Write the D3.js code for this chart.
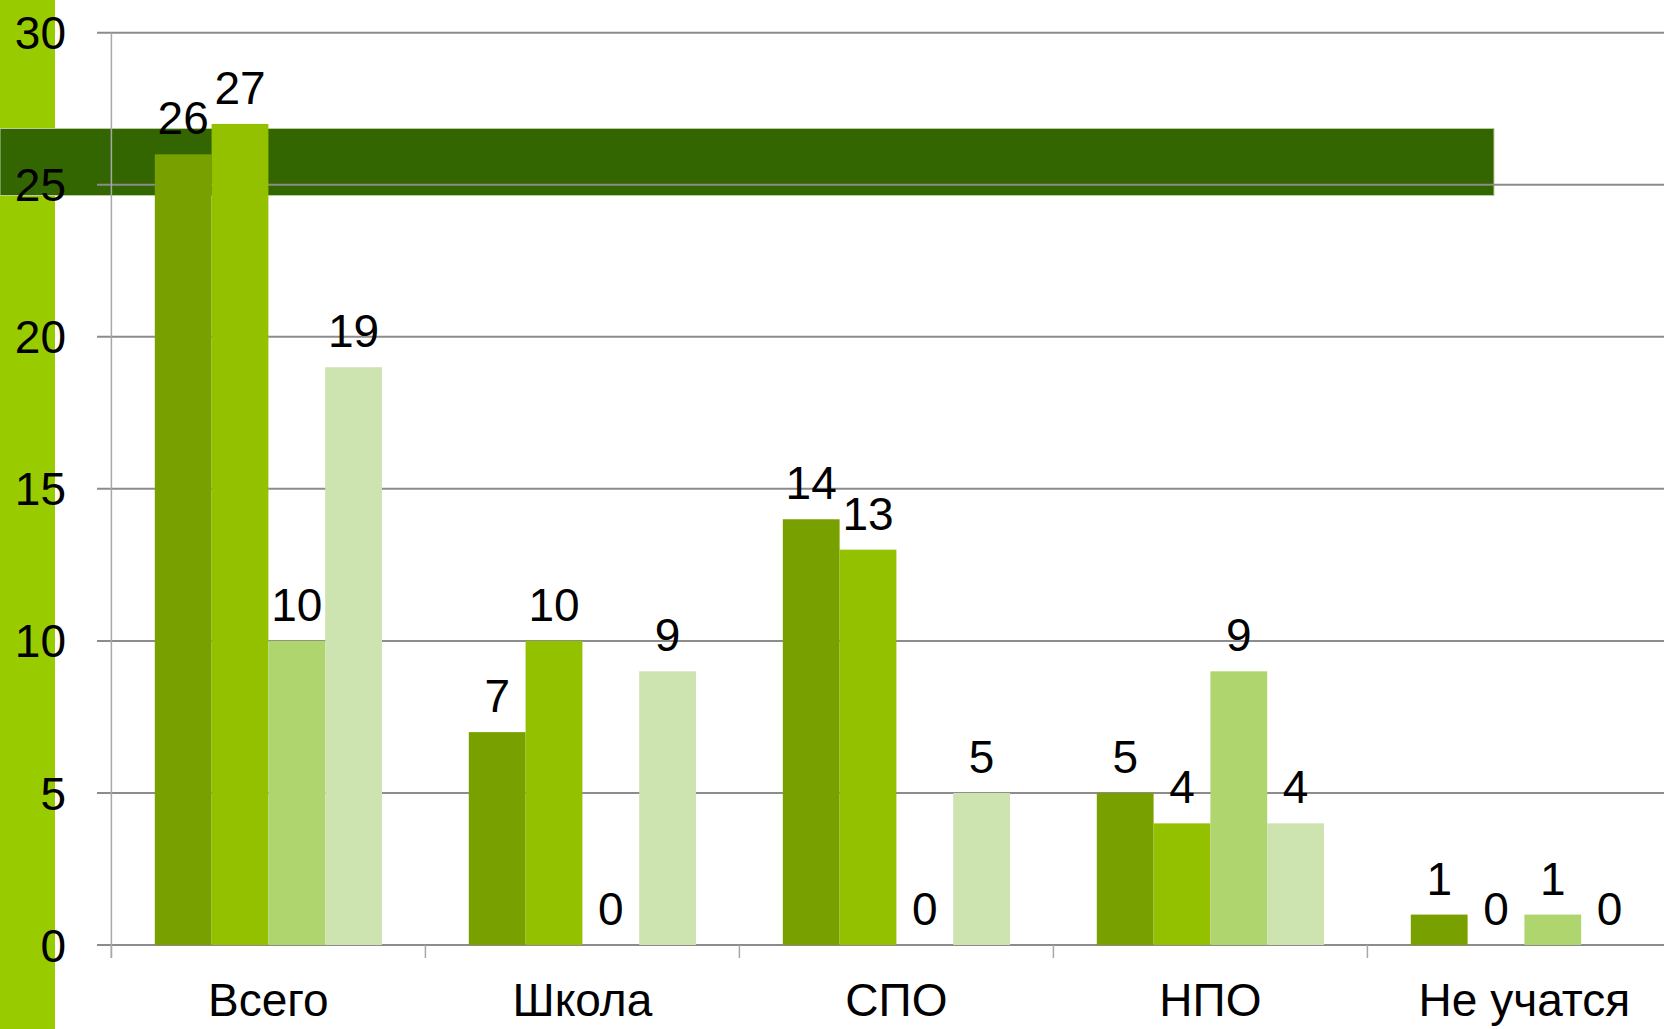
<!DOCTYPE html>
<html>
<head>
<meta charset="utf-8">
<script src="https://cdn.jsdelivr.net/npm/d3@7"></script>
<style>
  body { margin: 0; background: #fff; }
  svg { display: block; font-family: "Liberation Sans", Arial, sans-serif; }
</style>
</head>
<body>
<div id="graph"></div>
<script>
// data
var categories = ["Всего", "Школа", "СПО", "НПО", "Не учатся"];
var series = ["s1", "s2", "s3", "s4"];
var values = [
  [26, 27, 10, 19],
  [7, 10, 0, 9],
  [14, 13, 0, 5],
  [5, 4, 9, 4],
  [1, 0, 1, 0]
];
var yTicks = [0, 5, 10, 15, 20, 25, 30];
var colors = ["#78a100", "#93c100", "#afd56f", "#cde3b0"];

var width = 1664, height = 1029;
var x0 = 111.4, step = 314;

var svg = d3.select("#graph").append("svg")
  .attr("width", width)
  .attr("height", height);

var x = d3.scaleBand().domain(categories)
  .range([x0, x0 + step * categories.length]);
var xs = d3.scaleBand().domain(series)
  .range([0, x.bandwidth()])
  .paddingOuter(0.764);
var y = d3.scaleLinear().domain([0, 30]).range([945, 32.7]);

// decorations: lime strip on the left, dark band
svg.append("rect")
  .attr("x", 0).attr("y", 0)
  .attr("width", 55).attr("height", height)
  .attr("fill", "#99cc00");

svg.append("rect")
  .attr("x", 0).attr("y", 128.5)
  .attr("width", 1494).attr("height", 67)
  .attr("fill", "#336600")
  .attr("stroke", "#b8cca0")
  .attr("stroke-width", 1);

// gridlines
svg.append("g").selectAll("line")
  .data(yTicks)
  .enter()
  .append("line")
  .attr("x1", 97).attr("x2", width)
  .attr("y1", function(d){ return y(d); })
  .attr("y2", function(d){ return y(d); })
  .attr("stroke", "#8c8c8c")
  .attr("stroke-width", 2);

// vertical axis
svg.append("line")
  .attr("x1", x0).attr("x2", x0)
  .attr("y1", y(30)).attr("y2", 958)
  .attr("stroke", "#a8a8a8")
  .attr("stroke-width", 1.5);

// category ticks
svg.append("g").selectAll("line")
  .data(d3.range(categories.length + 1))
  .enter()
  .append("line")
  .attr("x1", function(i){ return x0 + i * x.step(); })
  .attr("x2", function(i){ return x0 + i * x.step(); })
  .attr("y1", y(0)).attr("y2", 958)
  .attr("stroke", "#a8a8a8")
  .attr("stroke-width", 1.5);

// y tick labels
svg.append("g").selectAll("text")
  .data(yTicks)
  .enter()
  .append("text")
  .attr("x", 66)
  .attr("y", function(d){ return y(d); })
  .attr("dy", "0.36em")
  .attr("text-anchor", "end")
  .style("font-size", "46px")
  .text(function(d){ return d; });

// bars
var groups = svg.append("g").selectAll("g")
  .data(values)
  .enter()
  .append("g")
  .attr("transform", function(d, i){ return "translate(" + x(categories[i]) + ",0)"; });

groups.selectAll("rect")
  .data(function(d){ return d; })
  .enter()
  .append("rect")
  .attr("x", function(d, j){ return xs(series[j]); })
  .attr("y", function(d){ return y(d); })
  .attr("width", xs.bandwidth())
  .attr("height", function(d){ return y(0) - y(d); })
  .attr("fill", function(d, j){ return colors[j]; });

groups.selectAll("text")
  .data(function(d){ return d; })
  .enter()
  .append("text")
  .attr("x", function(d, j){ return xs(series[j]) + xs.bandwidth() / 2; })
  .attr("y", function(d){ return y(d) - 20; })
  .attr("text-anchor", "middle")
  .style("font-size", "46px")
  .text(function(d){ return d; });

// category labels
svg.append("g").selectAll("text")
  .data(categories)
  .enter()
  .append("text")
  .attr("x", function(d){ return x(d) + x.bandwidth() / 2; })
  .attr("y", 1016)
  .attr("text-anchor", "middle")
  .style("font-size", "46px")
  .text(function(d){ return d; });
</script>
</body>
</html>
